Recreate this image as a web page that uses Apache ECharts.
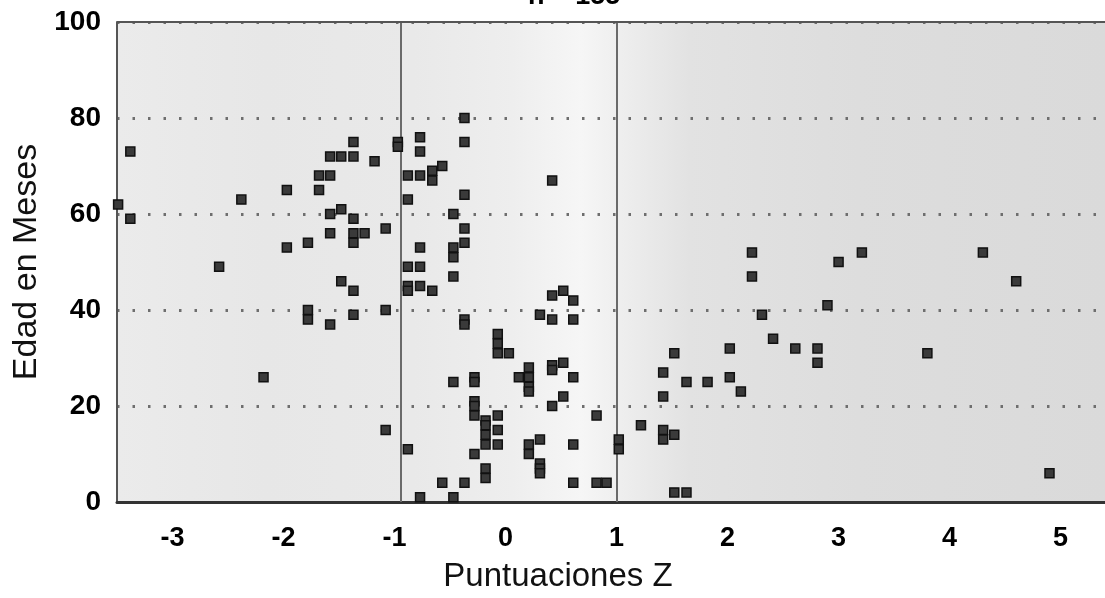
<!DOCTYPE html>
<html>
<head>
<meta charset="utf-8">
<script src="https://cdn.jsdelivr.net/npm/echarts@6/dist/echarts.min.js"></script>
<style>
html,body{margin:0;padding:0;background:#fff;}
#chart{width:1105px;height:598px;}
</style>
</head>
<body>
<div id="chart"></div>
<script>
// Data
const titleText = "n = 155";
const xAxisName = "Puntuaciones Z";
const yAxisName = "Edad en Meses";
const xTickValues = [-3, -2, -1, 0, 1, 2, 3, 4, 5];
const yTickValues = [0, 20, 40, 60, 80, 100];
const referenceLinesZ = [-0.94, 1];

const zScores = [
  -3.49, -3.38, -3.38,
  -2.58, -2.38, -2.18,
  -1.97, -1.97,
  -1.78, -1.78, -1.78,
  -1.68, -1.68,
  -1.58, -1.58, -1.58, -1.58, -1.58,
  -1.48, -1.48, -1.48,
  -1.37, -1.37, -1.37, -1.37, -1.37, -1.37, -1.37,
  -1.27, -1.18,
  -1.08, -1.08, -1.08,
  -0.97, -0.97,
  -0.88, -0.88, -0.88, -0.88, -0.88, -0.88,
  -0.77, -0.77, -0.77, -0.77, -0.77, -0.77, -0.77,
  -0.66, -0.66, -0.66,
  -0.57, -0.57,
  -0.47, -0.47, -0.47, -0.47, -0.47, -0.47,
  -0.37, -0.37, -0.37, -0.37, -0.37, -0.37, -0.37, -0.37,
  -0.28, -0.28, -0.28, -0.28, -0.28, -0.28,
  -0.18, -0.18, -0.18, -0.18, -0.18, -0.18,
  -0.07, -0.07, -0.07, -0.07, -0.07, -0.07,
  0.03, 0.12,
  0.21, 0.21, 0.21, 0.21, 0.21, 0.21,
  0.31, 0.31, 0.31, 0.31, 0.31,
  0.42, 0.42, 0.42, 0.42, 0.42, 0.42,
  0.52, 0.52, 0.52,
  0.61, 0.61, 0.61, 0.61, 0.61,
  0.82, 0.82, 0.91,
  1.02, 1.02,
  1.22,
  1.42, 1.42, 1.42, 1.42,
  1.52, 1.52, 1.52,
  1.63, 1.63,
  1.82,
  2.02, 2.02,
  2.12,
  2.22, 2.22,
  2.31, 2.41, 2.61,
  2.81, 2.81,
  2.90, 3.00, 3.21, 3.80, 4.30, 4.60, 4.90
];
const ageMonths = [
  62, 73, 59,
  49, 63, 26,
  65, 53,
  54, 40, 38,
  68, 65,
  72, 68, 60, 56, 37,
  72, 61, 46,
  75, 72, 59, 56, 54, 44, 39,
  56, 71,
  57, 40, 15,
  75, 74,
  68, 63, 49, 45, 44, 11,
  76, 73, 68, 53, 49, 45, 1,
  69, 67, 44,
  70, 4,
  60, 53, 51, 47, 25, 1,
  80, 75, 64, 57, 54, 38, 37, 4,
  26, 25, 21, 20, 18, 10,
  17, 16, 14, 12, 7, 5,
  35, 33, 31, 18, 15, 12,
  31, 26,
  28, 26, 24, 23, 12, 10,
  39, 13, 8, 7, 6,
  67, 43, 38, 28.5, 27.5, 20,
  44, 29, 22,
  42, 38, 26, 12, 4,
  18, 4, 4,
  13, 11,
  16,
  27, 22, 15, 13,
  31, 14, 2,
  25, 2,
  25,
  32, 26,
  23,
  52, 47,
  39, 34, 32,
  32, 29,
  41, 50, 52, 31, 52, 46, 6
];

const points = zScores.map((z, i) => [z, ageMonths[i]]);

const chart = echarts.init(document.getElementById('chart'), null, {renderer: 'canvas'});
const FONT = "'Liberation Sans', Arial, Helvetica, sans-serif";

const markData = referenceLinesZ.map(z => ({xAxis: z, lineStyle: {color: '#6a6a6a', width: 2, type: 'solid'}}));
markData.push({yAxis: yTickValues[yTickValues.length - 1], lineStyle: {color: '#555', width: 2, type: 'solid'}});

chart.setOption({
  animation: false,
  backgroundColor: '#ffffff',
  title: {
    text: titleText,
    left: 523,
    top: -22,
    textStyle: {fontFamily: FONT, fontSize: 27, fontWeight: 'bold', color: '#000'}
  },
  grid: {
    left: 117, right: 0, top: 22, bottom: 94,
    show: true,
    borderWidth: 0,
    backgroundColor: new echarts.graphic.LinearGradient(0, 0, 1, 0, [
      {offset: 0, color: '#ebebeb'},
      {offset: 0.15, color: '#e7e7e7'},
      {offset: 0.3, color: '#e9e9e9'},
      {offset: 0.4, color: '#eeeeee'},
      {offset: 0.47, color: '#f6f6f6'},
      {offset: 0.51, color: '#eeeeee'},
      {offset: 0.58, color: '#e2e2e2'},
      {offset: 0.75, color: '#dddddd'},
      {offset: 1, color: '#dadada'}
    ])
  },
  xAxis: {
    type: 'value',
    min: -3.5,
    max: 5.4,
    name: xAxisName,
    nameLocation: 'middle',
    nameGap: 58,
    nameTextStyle: {fontFamily: FONT, fontSize: 33, color: '#111', padding: [0, 106, 0, 0]},
    axisLine: {show: true, onZero: false, lineStyle: {color: '#333', width: 3}},
    axisTick: {show: false, customValues: xTickValues},
    axisLabel: {
      customValues: xTickValues,
      fontFamily: FONT, fontSize: 27, fontWeight: 'bold', color: '#000', margin: 23
    },
    splitLine: {show: false}
  },
  yAxis: {
    type: 'value',
    min: 0,
    max: 100,
    interval: 20,
    name: yAxisName,
    nameLocation: 'middle',
    nameGap: 70,
    nameTextStyle: {fontFamily: FONT, fontSize: 34, color: '#111'},
    axisLine: {show: true, onZero: false, lineStyle: {color: '#555', width: 2}},
    axisTick: {show: false},
    axisLabel: {fontFamily: FONT, fontSize: 28, fontWeight: 'bold', color: '#000', margin: 16},
    splitLine: {show: true, lineStyle: {color: '#6e6e6e', width: 3, type: [2.5, 13]}}
  },
  series: [{
    type: 'scatter',
    data: points,
    symbol: 'rect',
    symbolSize: 9,
    itemStyle: {color: '#3a3a3a', borderColor: '#111', borderWidth: 1.5, opacity: 1},
    markLine: {
      silent: true,
      symbol: 'none',
      label: {show: false},
      data: markData
    },
    z: 5
  }]
});
</script>
</body>
</html>
